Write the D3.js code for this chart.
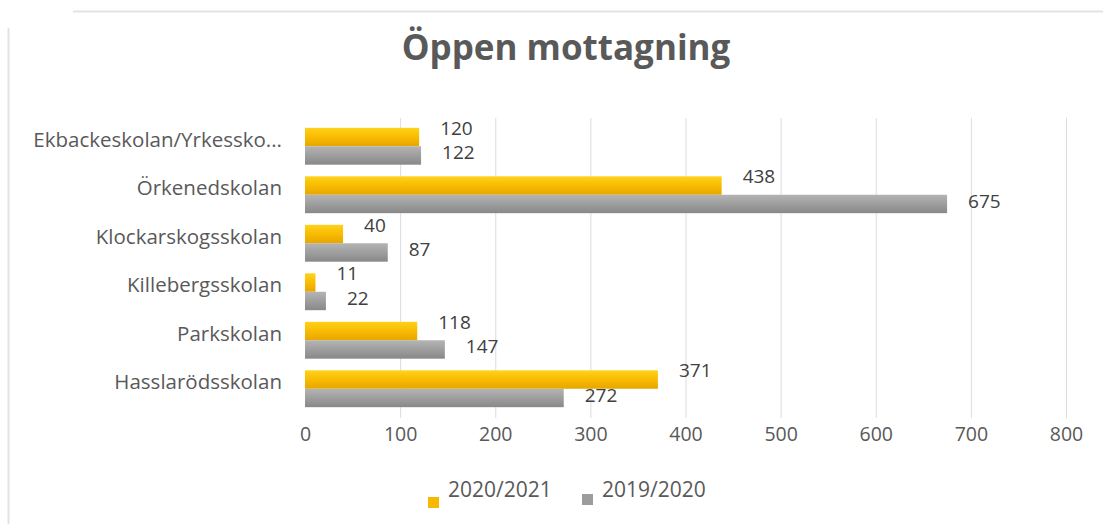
<!DOCTYPE html>
<html>
<head>
<meta charset="utf-8">
<script src="https://cdn.jsdelivr.net/npm/d3@7"></script>
<style>
  body { margin: 0; background: #ffffff; }
  svg { display: block; font-family: "Open Sans", "DejaVu Sans", sans-serif; }
</style>
</head>
<body>
<svg id="chart" width="1103" height="524"></svg>
<script>
const categories = ["Ekbackeskolan/Yrkessko...", "Örkenedskolan", "Klockarskogsskolan", "Killebergsskolan", "Parkskolan", "Hasslarödsskolan"];
const seriesNames = ["2020/2021", "2019/2020"];
const values2020 = [120, 438, 40, 11, 118, 371];
const values2019 = [122, 675, 87, 22, 147, 272];
const xTicks = [0, 100, 200, 300, 400, 500, 600, 700, 800];
const colors = ["#F7B900", "#9C9C9C"];

const svg = d3.select("#chart");

// frame lines
svg.append("line").attr("x1", 73).attr("x2", 1103).attr("y1", 11.5).attr("y2", 11.5).attr("stroke", "#e3e3e3").attr("stroke-width", 2);
svg.append("line").attr("x1", 8.5).attr("x2", 8.5).attr("y1", 28).attr("y2", 524).attr("stroke", "#e3e3e3").attr("stroke-width", 2);

// gradients
const defs = svg.append("defs");
const g1 = defs.append("linearGradient").attr("id", "gY").attr("x1", 0).attr("x2", 0).attr("y1", 0).attr("y2", 1);
g1.append("stop").attr("offset", "0%").attr("stop-color", "#FFD21A");
g1.append("stop").attr("offset", "55%").attr("stop-color", "#F7B900");
g1.append("stop").attr("offset", "100%").attr("stop-color", "#E6A600");
const g2 = defs.append("linearGradient").attr("id", "gG").attr("x1", 0).attr("x2", 0).attr("y1", 0).attr("y2", 1);
g2.append("stop").attr("offset", "0%").attr("stop-color", "#B4B4B4");
g2.append("stop").attr("offset", "55%").attr("stop-color", "#9C9C9C");
g2.append("stop").attr("offset", "100%").attr("stop-color", "#888888");
const fills = ["url(#gY)", "url(#gG)"];

const x = d3.scaleLinear().domain([0, 800]).range([305, 1066]);
const y = d3.scaleBand().domain(categories).range([122, 413]).paddingInner(0.24).paddingOuter(0.12);
const ySub = d3.scaleBand().domain(seriesNames).range([0, y.bandwidth()]);

// title
svg.append("text").attr("x", 566).attr("y", 60).attr("text-anchor", "middle")
  .attr("font-size", 35).attr("font-weight", "bold").attr("fill", "#595959").text("Öppen mottagning");

// gridlines
svg.append("g").selectAll("line").data(xTicks.slice(1)).join("line")
  .attr("x1", d => x(d) + 0.5).attr("x2", d => x(d) + 0.5)
  .attr("y1", 118).attr("y2", 418)
  .attr("stroke", "#dcdcdc").attr("stroke-width", 1);

// x axis tick labels
const xAxis = d3.axisBottom(x).tickValues(xTicks).tickSize(0).tickPadding(10);
const xg = svg.append("g").attr("transform", "translate(0,417)").call(xAxis);
xg.select(".domain").remove();
xg.selectAll("text").attr("font-size", 19.5).attr("fill", "#595959").attr("font-family", "'Open Sans', sans-serif");

// y axis labels
const yAxis = d3.axisLeft(y).tickSize(0).tickPadding(0);
const yg = svg.append("g").attr("transform", "translate(282,-6)").call(yAxis);
yg.select(".domain").remove();
yg.selectAll("text").attr("font-size", 20.5).attr("fill", "#595959").attr("font-family", "'Open Sans', sans-serif");

// bars
const rows = categories.map((c, i) => ({ cat: c, vals: [values2020[i], values2019[i]] }));
const grp = svg.append("g").selectAll("g").data(rows).join("g")
  .attr("transform", d => `translate(0,${y(d.cat)})`);
grp.selectAll("rect").data(d => d.vals.map((v, j) => ({ v, s: seriesNames[j], j }))).join("rect")
  .attr("x", x(0)).attr("y", d => ySub(d.s))
  .attr("width", d => x(d.v) - x(0)).attr("height", ySub.bandwidth())
  .attr("fill", d => fills[d.j]);
grp.selectAll("text.lbl").data(d => d.vals.map((v, j) => ({ v, s: seriesNames[j], j }))).join("text")
  .attr("class", "lbl")
  .attr("x", d => x(d.v) + 21).attr("y", d => ySub(d.s) + ySub.bandwidth() / 2 - (d.j === 0 ? 9 : 3))
  .attr("dy", "0.35em").attr("font-size", 19).attr("fill", "#404040").text(d => d.v);

// legend
const legend = svg.append("g");
const legX = [428, 582];
const legY = [497, 494];
seriesNames.forEach((s, i) => {
  legend.append("rect").attr("x", legX[i]).attr("y", legY[i]).attr("width", 11).attr("height", 11).attr("fill", colors[i]);
  legend.append("text").attr("x", legX[i] + 20).attr("y", 490).attr("dy", "0.35em")
    .attr("font-size", 21).attr("fill", "#595959").text(s);
});
</script>
</body>
</html>
